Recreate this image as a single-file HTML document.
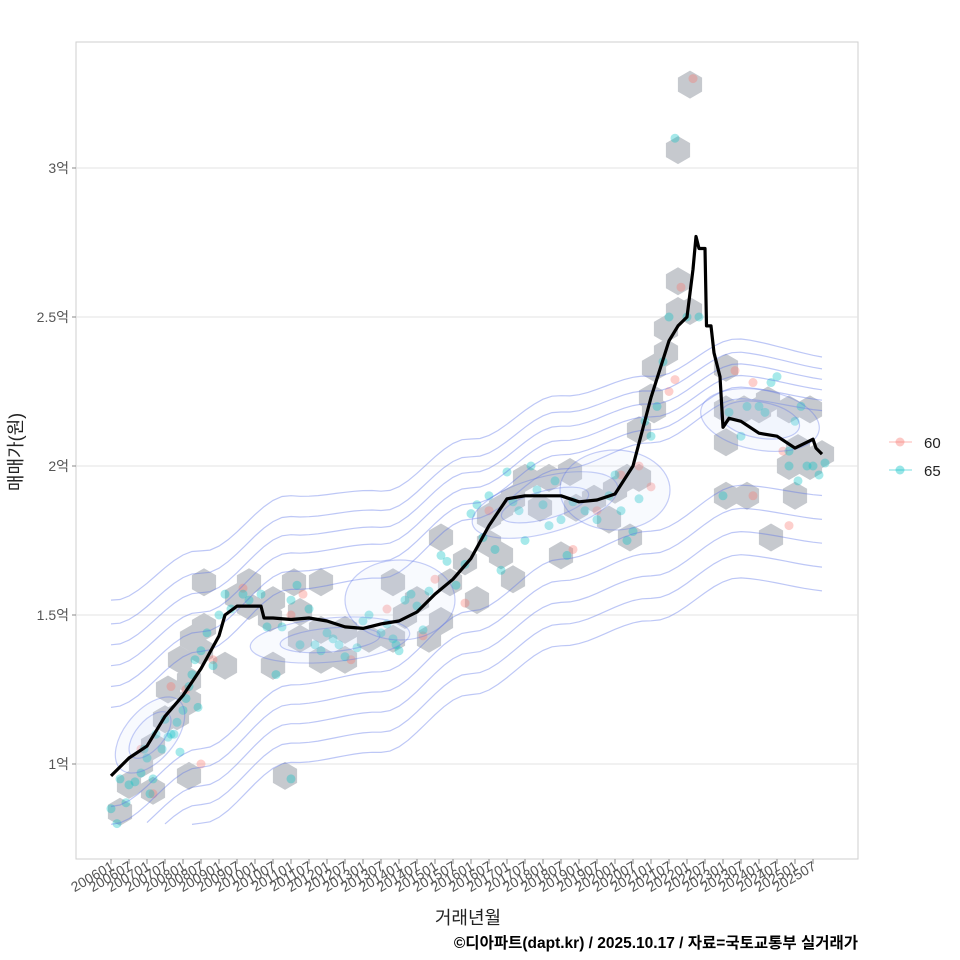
<!DOCTYPE html>
<html><head><meta charset="utf-8">
<style>
html,body{margin:0;padding:0;background:#fff;}
svg{display:block;font-family:"Liberation Sans","Noto Sans CJK KR",sans-serif;}
</style></head>
<body>
<svg id="chart" width="960" height="960" viewBox="0 0 960 960" xmlns="http://www.w3.org/2000/svg">
<defs><clipPath id="clip"><rect x="76" y="42" width="782" height="817"/></clipPath></defs>
<rect x="76" y="42" width="782" height="817" fill="#fff" stroke="#cfcfcf" stroke-width="1"/>
<g id="grid"></g>
<g id="hexes" clip-path="url(#clip)"></g>
<g id="points" clip-path="url(#clip)"></g>
<g id="contours" clip-path="url(#clip)"></g>
<g id="line" clip-path="url(#clip)"></g>
<g id="yaxis"></g>
<g id="xaxis"></g>
<text x="468" y="924" font-size="18" fill="#222" text-anchor="middle">거래년월</text>
<text transform="translate(22,452) rotate(-90)" font-size="18" fill="#222" text-anchor="middle">매매가(원)</text>
<text x="858" y="948" font-size="15.5" font-weight="bold" fill="#000" text-anchor="end">©디아파트(dapt.kr) / 2025.10.17 / 자료=국토교통부 실거래가</text>
<g>
  <g>
    <line x1="889" y1="442" x2="912" y2="442" stroke="#F8766D" stroke-opacity="0.35" stroke-width="1.5"/>
    <circle cx="900" cy="442" r="4.5" fill="#F8766D" fill-opacity="0.4"/>
    <text x="924" y="448" font-size="15" fill="#222">60</text>
  </g>
  <g>
    <line x1="889" y1="470" x2="912" y2="470" stroke="#00BFC4" stroke-opacity="0.35" stroke-width="1.5"/>
    <circle cx="900" cy="470" r="4.5" fill="#00BFC4" fill-opacity="0.4"/>
    <text x="924" y="476" font-size="15" fill="#222">65</text>
  </g>
</g>
</svg>
<script>
// ---- data ----
const yTicks = [1, 1.5, 2, 2.5, 3];
const yTickLabels = ["1억", "1.5억", "2억", "2.5억", "3억"];
const xTickLabels = ["200601","200607","200701","200707","200801","200807","200901","200907","201001","201007","201101","201107","201201","201207","201301","201307","201401","201407","201501","201507","201601","201607","201701","201707","201801","201807","201901","201907","202001","202007","202101","202107","202201","202207","202301","202307","202401","202407","202501","202507"];
const lineMonths = [0,6,12,18,24,30,36,38,42,48,50,51,54,60,66,72,78,84,90,96,102,108,114,120,126,132,138,144,150,156,162,168,174,180,186,189,192,194,195,196,198,198.5,200,201,203,204,206,210,216,222,228,232,234,235,237];
const lineValues = [0.96,1.02,1.06,1.16,1.23,1.32,1.43,1.50,1.53,1.53,1.53,1.49,1.49,1.485,1.49,1.48,1.46,1.455,1.47,1.48,1.51,1.57,1.62,1.69,1.80,1.89,1.90,1.90,1.90,1.88,1.886,1.906,2.0,2.23,2.42,2.47,2.5,2.66,2.77,2.73,2.73,2.47,2.47,2.38,2.30,2.13,2.16,2.15,2.11,2.10,2.06,2.08,2.09,2.06,2.04];
const teal = [[0,0.85],[2,0.80],[3,0.95],[5,0.87],[6,0.93],[8,0.94],[10,0.97],[11,1.05],[12,1.02],[13,0.90],[14,0.95],[15,1.10],[17,1.05],[18,1.15],[19,1.09],[20,1.10],[21,1.10],[22,1.14],[23,1.04],[24,1.18],[25,1.22],[26,1.26],[27,1.30],[28,1.35],[29,1.19],[30,1.38],[32,1.44],[34,1.33],[36,1.50],[38,1.57],[40,1.52],[44,1.57],[46,1.55],[50,1.57],[52,1.46],[55,1.30],[57,1.46],[60,0.95],[60,1.55],[62,1.60],[63,1.40],[66,1.52],[68,1.40],[70,1.38],[72,1.44],[74,1.42],[76,1.40],[78,1.36],[82,1.39],[84,1.48],[86,1.50],[90,1.44],[92,1.47],[94,1.42],[95,1.40],[96,1.38],[98,1.55],[100,1.57],[102,1.53],[104,1.45],[106,1.58],[110,1.70],[112,1.68],[115,1.60],[118,1.67],[120,1.84],[122,1.87],[124,1.76],[126,1.90],[128,1.72],[130,1.65],[132,1.98],[134,1.88],[136,1.85],[138,1.75],[140,2.00],[142,1.92],[144,1.87],[146,1.80],[148,1.95],[150,1.82],[152,1.70],[154,1.88],[158,1.85],[162,1.82],[166,1.90],[168,1.97],[170,1.85],[172,1.75],[174,1.78],[176,1.89],[178,2.15],[180,2.10],[182,2.20],[184,2.35],[186,2.50],[188,3.10],[192,2.50],[196,2.50],[204,1.90],[206,2.18],[210,2.10],[212,2.20],[216,2.20],[218,2.18],[220,2.28],[222,2.30],[226,2.05],[226,2.00],[228,2.15],[229,1.95],[230,2.20],[232,2.00],[234,2.00],[236,1.97],[238,2.01]];
const pink = [[10,1.05],[14,0.90],[20,1.26],[25,1.25],[30,1.00],[34,1.35],[44,1.59],[60,1.50],[64,1.57],[80,1.35],[92,1.52],[104,1.43],[108,1.62],[118,1.54],[126,1.85],[154,1.72],[162,1.85],[170,1.97],[176,2.0],[180,1.93],[186,2.25],[188,2.29],[190,2.60],[194,3.30],[208,2.32],[214,2.28],[214,1.90],[224,2.05],[226,1.80]];
const hexCenters = [[3,0.84],[6,0.93],[14,0.91],[10,1.0],[14,1.06],[18,1.15],[22,1.16],[26,1.21],[19,1.25],[26,1.28],[30,1.38],[23,1.35],[31,1.46],[27,1.42],[31,1.61],[38,1.33],[26,0.96],[46,1.61],[46,1.53],[42,1.56],[54,1.55],[61,1.61],[70,1.61],[63,1.51],[53,1.49],[70,1.45],[78,1.45],[78,1.35],[70,1.35],[63,1.42],[54,1.33],[86,1.42],[94,1.61],[94,1.42],[98,1.50],[102,1.55],[106,1.42],[110,1.48],[110,1.76],[113,1.61],[118,1.68],[122,1.55],[126,1.83],[130,1.86],[126,1.74],[130,1.70],[134,1.62],[134,1.89],[138,1.96],[146,1.96],[153,1.98],[143,1.86],[155,1.86],[161,1.89],[168,1.92],[173,1.76],[176,1.96],[150,1.70],[166,1.82],[176,2.12],[180,2.23],[181,2.33],[185,2.38],[185,2.46],[189,2.52],[193,2.52],[189,2.62],[189,3.06],[193,3.28],[205,2.33],[205,2.19],[205,2.08],[211,2.19],[216,2.19],[219,2.22],[226,2.19],[229,2.06],[233,2.00],[226,2.00],[237,2.04],[205,1.90],[212,1.90],[220,1.76],[228,1.90],[233,2.19],[181,2.19],[172,1.96],[58,0.96],[54,1.33]];
const contourOffsets = [0.55,0.47,0.40,0.33,0.26,0.19,-0.19,-0.27,-0.35,-0.43,-0.51];
const contourCenterMonths = [0,30,60,90,120,150,180,210,240];
const contourCenterValues = [1.0,1.2,1.42,1.47,1.68,1.86,1.96,2.12,2.09];

// ---- scales ----
const xs = m => 111 + m * 3;
const ys = v => 764 - (v - 1) * 298;
const NS = "http://www.w3.org/2000/svg";
function mk(tag, attrs, parent){const e=document.createElementNS(NS,tag);for(const k in attrs)e.setAttribute(k,attrs[k]);parent.appendChild(e);return e;}

const grid=document.getElementById('grid'), yaxis=document.getElementById('yaxis');
yTicks.forEach((t,i)=>{
  const g=mk('line',{x1:76,x2:858,y1:ys(t),y2:ys(t),stroke:'#e3e3e3','stroke-width':1},grid);
  
  
  const tk=mk('line',{x1:72,x2:76,y1:ys(t),y2:ys(t),stroke:'#888'},yaxis);
  
  
  const tx=mk('text',{x:69,y:ys(t)+5,'font-size':14,fill:'#555','text-anchor':'end'},yaxis);
  tx.textContent=yTickLabels[i];
  
  
});
const xaxis=document.getElementById('xaxis');
xTickLabels.forEach((l,i)=>{
  const x=xs(i*6);
  const tk=mk('line',{x1:x,x2:x,y1:859,y2:864,stroke:'#888'},xaxis);
  
  
  const tx=mk('text',{x:x+4,y:869,'font-size':14,fill:'#555','text-anchor':'end',transform:`rotate(-30 ${x+4} 869)`},xaxis);
  tx.textContent=l;
  
  
});
const hexG=document.getElementById('hexes');
hexCenters.forEach(([m,v])=>{
  const cx=xs(m),cy=ys(v),r=14;let pts=[];
  for(let k=0;k<6;k++){const a=Math.PI/6+k*Math.PI/3;pts.push((cx+r*Math.cos(a)).toFixed(1)+','+(cy+r*Math.sin(a)).toFixed(1));}
  const h=mk('polygon',{points:pts.join(' '),fill:'#c6c9ce'},hexG);
  
  
});
const ptG=document.getElementById('points');
pink.forEach(([m,v])=>{
  const c=mk('circle',{cx:xs(m),cy:ys(v),r:4.5,fill:'#F8766D','fill-opacity':0.35},ptG);
  
  
});
teal.forEach(([m,v])=>{
  const c=mk('circle',{cx:xs(m),cy:ys(v),r:4.5,fill:'#00BFC4','fill-opacity':0.35},ptG);
  
  
});
const cG=document.getElementById('contours');
function centerAt(m){
  const M=contourCenterMonths,V=contourCenterValues;
  for(let i=0;i<M.length-1;i++){if(m<=M[i+1]){const t=(m-M[i])/(M[i+1]-M[i]);const s=t*t*(3-2*t);return V[i]+(V[i+1]-V[i])*s;}}
  return V[V.length-1];
}
contourOffsets.forEach(off=>{
  let d='';let started=false;
  for(let m=0;m<=237;m+=3){
    const f=off>0?(1-0.5*m/237):(0.75+0.25*m/237);
    const v=centerAt(m)+off*f;
    if(v<0.79){started=false;continue;}
    d+=(started?'L':'M')+xs(m).toFixed(1)+','+ys(v).toFixed(1);started=true;
  }
  const p=mk('path',{d:d,fill:'none',stroke:'#5b73e8','stroke-opacity':0.4,'stroke-width':1.2},cG);
  
  
});
[[150,735,45,25,-50],[150,735,28,14,-50],[330,640,80,22,-5],[330,640,50,12,-5],[545,505,75,28,-15],[545,505,45,14,-15],[615,490,55,40,0],[760,420,60,30,10],[760,420,40,18,10],[400,600,55,40,0]].forEach(([cx,cy,rx,ry,rot])=>{
  const e=mk('ellipse',{cx:cx,cy:cy,rx:rx,ry:ry,fill:'#c8d4f8','fill-opacity':0.12,stroke:'#5b73e8','stroke-opacity':0.35,'stroke-width':1.2,transform:`rotate(${rot} ${cx} ${cy})`},cG);
  
  
});
const lG=document.getElementById('line');
const ld=lineMonths.map((m,i)=>(i?'L':'M')+xs(m).toFixed(1)+','+ys(lineValues[i]).toFixed(1)).join('');
const lp=mk('path',{d:ld,fill:'none',stroke:'#000','stroke-width':3.2,'stroke-linejoin':'round'},lG);


</script>
</body></html>
